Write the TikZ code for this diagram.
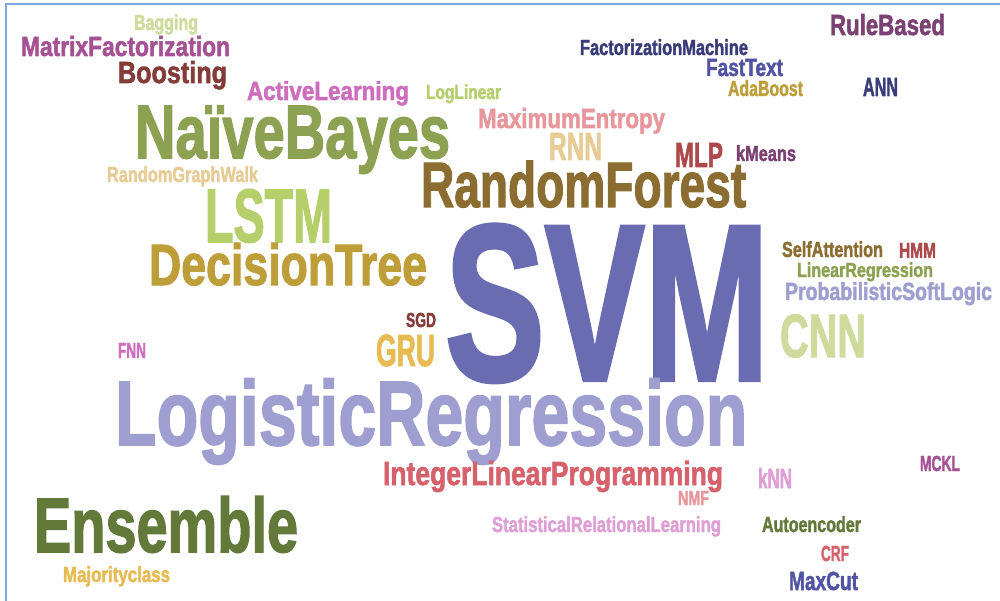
\documentclass[tikz,border=0pt]{standalone}
\usepackage{fontspec}
\usepackage{graphicx}
\newfontfamily\wcf{Liberation Sans}[UprightFont={* Bold},FakeBold=2]
\definecolor{borderc}{HTML}{7EA6DA}
\definecolor{cA}{HTML}{393B79}
\definecolor{cB}{HTML}{5254A3}
\definecolor{cC}{HTML}{6A6CB2}
\definecolor{cD}{HTML}{9E9ED0}
\definecolor{cE}{HTML}{637939}
\definecolor{cF}{HTML}{8CA252}
\definecolor{cG}{HTML}{B5CF6B}
\definecolor{cH}{HTML}{CEDB9C}
\definecolor{cI}{HTML}{8C6D31}
\definecolor{cJ}{HTML}{BD9E39}
\definecolor{cK}{HTML}{E7BA52}
\definecolor{cL}{HTML}{E7CB94}
\definecolor{cM}{HTML}{843C39}
\definecolor{cN}{HTML}{AD494A}
\definecolor{cO}{HTML}{D6616B}
\definecolor{cP}{HTML}{E7969C}
\definecolor{cQ}{HTML}{7B4173}
\definecolor{cR}{HTML}{A55194}
\definecolor{cS}{HTML}{CE6DBD}
\definecolor{cT}{HTML}{DE9ED6}
\tikzset{wc/.style={anchor=base west, inner sep=0pt, outer sep=0pt, font=\wcf}}
\newcommand\wcword[7]{%
  \node[wc,text=#6] (#1) at (#2,#3) {\resizebox{#4pt}{#5pt}{\raisebox{0pt}[\fontcharht\font`H][0pt]{#7}}};}
\begin{document}
\begin{tikzpicture}[x=1pt,y=-1pt]
\useasboundingbox (0,0) rectangle (1000,601);
\fill[white] (0,0) rectangle (1000,601);
\draw[borderc, line width=1.2pt] (1000,4) -- (6,4) -- (6,601);
\wcword{bagging}{134}{30}{64}{15}{cH}{Bagging}
\wcword{matfac}{21}{56}{209}{19}{cR}{MatrixFactorization}
\wcword{boosting}{118}{83}{109}{21}{cM}{Boosting}
\wcword{active}{247}{100}{162}{18}{cS}{ActiveLearning}
\wcword{naive}{135}{158}{315}{52}{cF}{NaïveBayes}
\wcword{rgw}{107}{182}{151}{15}{cL}{RandomGraphWalk}
\wcword{lstm}{205}{242}{127}{52}{cG}{LSTM}
\wcword{dtree}{149}{285}{278}{40}{cJ}{DecisionTree}
\wcword{sgd}{406}{327}{30}{14}{cM}{SGD}
\wcword{gru}{376}{366}{59}{31}{cK}{GRU}
\wcword{fnn}{118}{358}{28}{15}{cS}{FNN}
\wcword{svm}{445}{380}{324}{153}{cC}{SVM}
\wcword{rule}{830}{35}{115}{20}{cQ}{RuleBased}
\wcword{facmach}{580}{55}{168}{15}{cA}{FactorizationMachine}
\wcword{fasttext}{706}{76}{77}{17}{cB}{FastText}
\wcword{ann}{863}{96}{35}{18}{cA}{ANN}
\wcword{ada}{728}{96}{75}{15}{cJ}{AdaBoost}
\wcword{loglin}{426}{99}{75}{14}{cG}{LogLinear}
\wcword{maxent}{478}{128}{187}{19}{cP}{MaximumEntropy}
\wcword{rnn}{549}{160}{53}{27}{cL}{RNN}
\wcword{mlp}{675}{167}{48}{24}{cN}{MLP}
\wcword{kmeans}{736}{161}{60}{15}{cQ}{kMeans}
\wcword{rforest}{421}{207}{325}{44}{cI}{RandomForest}
\wcword{selfatt}{782}{257}{101}{15}{cI}{SelfAttention}
\wcword{hmm}{899}{258}{37}{15}{cN}{HMM}
\wcword{linreg}{797}{277}{136}{14}{cF}{LinearRegression}
\wcword{psl}{785}{300}{207}{17}{cD}{ProbabilisticSoftLogic}
\wcword{cnn}{780}{357}{86}{42}{cH}{CNN}
\wcword{logreg}{115}{445}{632}{63}{cD}{LogisticRegression}
\wcword{ilp}{383}{485}{340}{23}{cO}{IntegerLinearProgramming}
\wcword{ensemble}{34}{552}{264}{53}{cE}{Ensemble}
\wcword{major}{63}{582}{107}{15}{cK}{Majorityclass}
\wcword{mckl}{920}{471}{40}{15}{cR}{MCKL}
\wcword{knn}{758}{488}{34}{19}{cT}{kNN}
\wcword{nmf}{678}{505}{31}{14}{cP}{NMF}
\wcword{srl}{492}{532}{229}{15}{cT}{StatisticalRelationalLearning}
\wcword{autoenc}{762}{532}{99}{15}{cE}{Autoencoder}
\wcword{crf}{821}{561}{28}{15}{cO}{CRF}
\wcword{maxcut}{789}{590}{69}{18}{cB}{MaxCut}
\end{tikzpicture}
\end{document}
